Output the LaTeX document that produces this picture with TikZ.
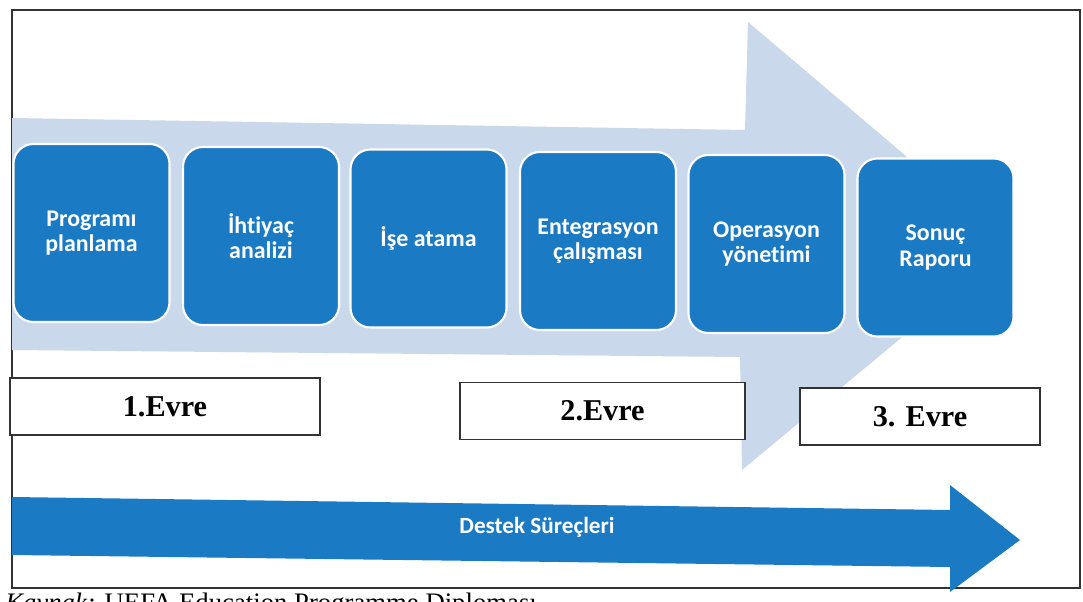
\documentclass[tikz,border=0pt]{standalone}
\usepackage{fontspec}
\setmainfont{Liberation Serif}
\newfontfamily\boxfont[Ligatures=NoCommon]{Carlito}
\definecolor{stageblue}{HTML}{1A7AC4}
\definecolor{backarrow}{HTML}{CAD8EC}
\begin{document}
\begin{tikzpicture}[x=0.025cm, y=-0.025cm,
        stage/.style={draw=white, line width=1.5pt, fill=stageblue, rounded corners=0.5cm,
            minimum width=3.9cm, minimum height=4.45cm, text=white, align=center,
            font=\boxfont\bfseries\fontsize{17}{18}\selectfont},
        phase/.style={draw=black!80, line width=1pt, fill=white, minimum height=1.42cm,
            font=\bfseries\fontsize{21.5}{24}\selectfont}]
        \useasboundingbox (0,0) rectangle (1083,602);

        % Frame
        \draw[black!80, line width=1pt] (12,10) rectangle (1080,588);

        % Big arrow in the back
        \fill[backarrow] (12,118) -- (745,130) -- (748,22) -- (1012,246) -- (742,470)
            -- (740,357) -- (12,350) -- cycle;

        % Steps
        \foreach \i/\x/\y/\txt in {1/91.5/233/{Programı\\planlama}, 2/261/236/{İhtiyaç\\analizi},
                3/428.5/238.5/{İşe atama}, 4/598/241/{Entegrasyon\\çalışması},
                5/766.5/244/{Operasyon\\yönetimi}, 6/935.5/247.5/{Sonuç\\Raporu}} {
            \node[stage] (step\i) at (\x,\y) {\txt};
        }

        % Phases
        \node[phase, minimum width=7.75cm] (phase1) at (165,406.5) {1.Evre};
        \node[phase, minimum width=7.125cm] (phase2) at (602.5,411) {2.Evre};
        \node[phase, minimum width=6cm] (phase3) at (920,416.5) {3. Evre};

        % Support arrow
        \fill[stageblue] (12,497) -- (950,510) -- (950,485) -- (1020,540) -- (950,592)
            -- (950,567) -- (12,555) -- cycle;
        \node[text=white, font=\boxfont\bfseries\fontsize{16.5}{18}\selectfont] (support) at (537,527) {Destek Süreçleri};

        % Source
        \node[anchor=base west, inner sep=0pt, font=\fontsize{19}{22}\selectfont] (source) at (5,611)
            {\textit{Kaynak:} UEFA Education Programme Diploması};
    \end{tikzpicture}
\end{document}
